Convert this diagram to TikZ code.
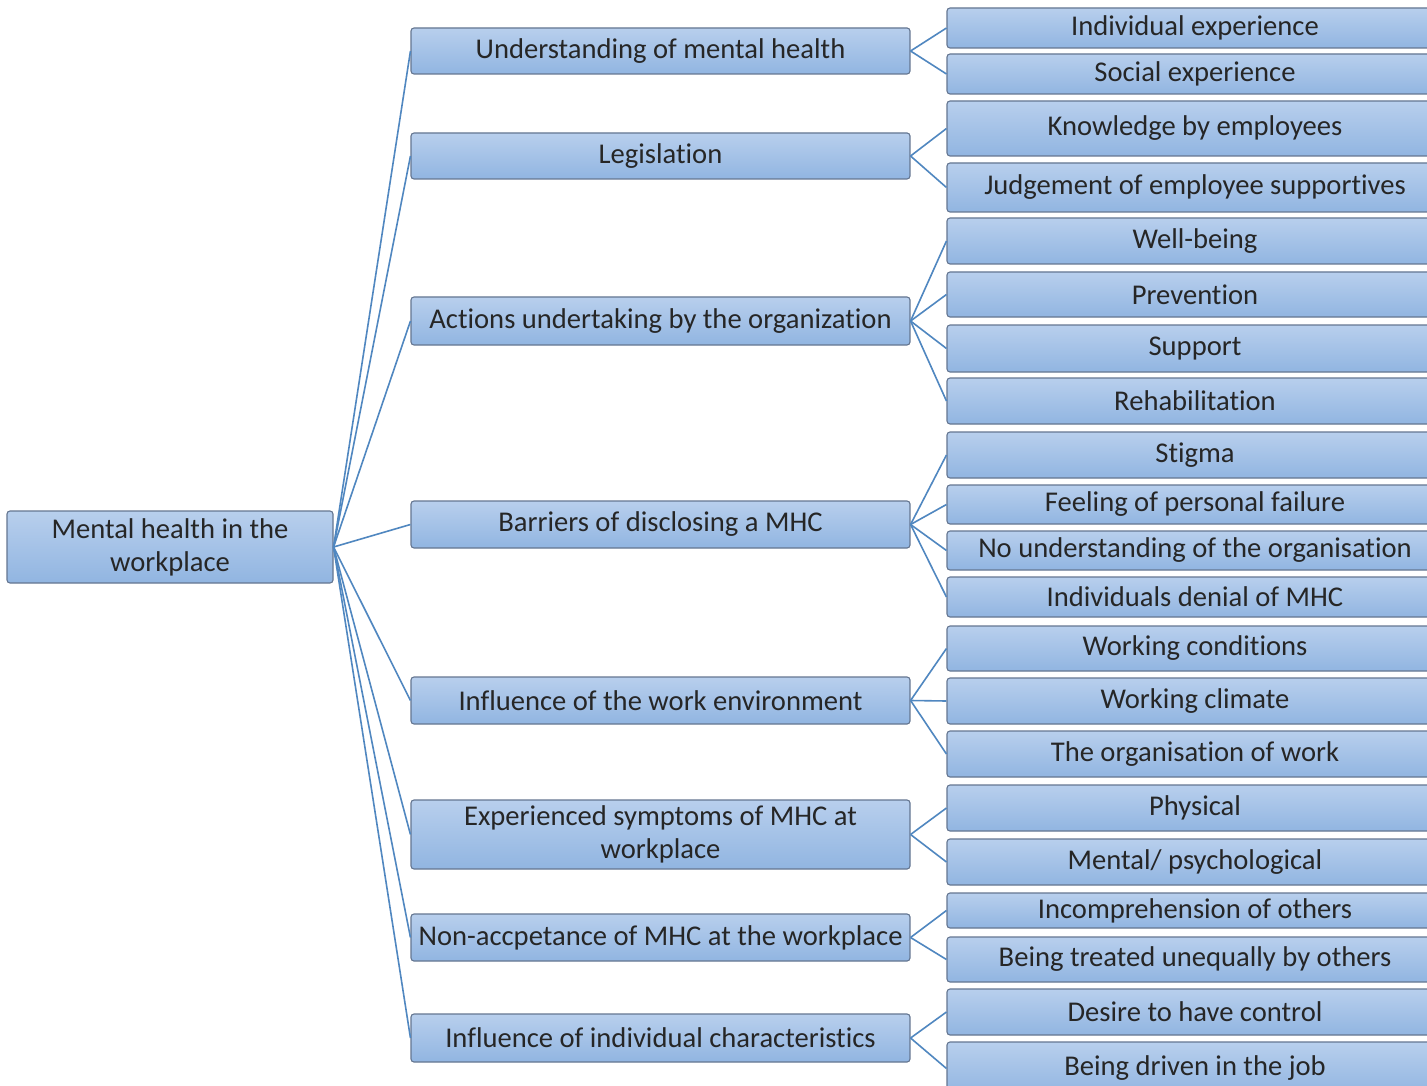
\documentclass[tikz,border=0pt]{standalone}
\usepackage{fontspec}
\setmainfont{Carlito}[Ligatures={NoCommon}]
\definecolor{boxtop}{RGB}{184,207,237}
\definecolor{boxbot}{RGB}{145,181,225}
\definecolor{boxline}{RGB}{100,118,145}
\definecolor{conn}{RGB}{80,135,192}
\tikzset{
  bx/.style={rectangle, rounded corners=1.5pt, draw=boxline, line width=0.55pt,
    top color=boxtop, bottom color=boxbot, inner sep=0pt, align=center,
    font=\fontsize{14.3pt}{16.5pt}\selectfont, text=black!85},
  link/.style={draw=conn, line width=0.8pt}
}
\newcommand\boxat[6]{%
  \node[bx, minimum width={(#4-#2)*0.5pt}, minimum height={(#5-#3)*0.5pt}]
    (#1) at ({(#2+#4)/2},{(#3+#5)/2}) {#6};}
\begin{document}
\begin{tikzpicture}[x=0.5pt,y=-0.5pt]
\useasboundingbox[fill=white] (0,0) rectangle (1427,1085);
% root
\boxat{root}{7}{511}{333}{583}{Mental health in the\\workplace}
% middle
\boxat{m1}{411}{28}{910}{74}{Understanding of mental health}
\boxat{m2}{411}{133}{910}{179}{Legislation}
\boxat{m3}{411}{297}{910}{345}{Actions undertaking by the organization}
\boxat{m4}{411}{501}{910}{548}{Barriers of disclosing a MHC}
\boxat{m5}{411}{677}{910}{724}{Influence of the work environment}
\boxat{m6}{411}{800}{910}{869}{Experienced symptoms of MHC at\\workplace}
\boxat{m7}{411}{914}{910}{961}{Non-accpetance of MHC at the workplace}
\boxat{m8}{411}{1014}{910}{1062}{Influence of individual characteristics}
% right
\boxat{r1}{947}{8}{1443}{48}{Individual experience}
\boxat{r2}{947}{54}{1443}{94}{Social experience}
\boxat{r3}{947}{101}{1443}{156}{Knowledge by employees}
\boxat{r4}{947}{163}{1443}{212}{Judgement of employee supportives}
\boxat{r5}{947}{218}{1443}{264}{Well-being}
\boxat{r6}{947}{272}{1443}{317}{Prevention}
\boxat{r7}{947}{325}{1443}{372}{Support}
\boxat{r8}{947}{378}{1443}{424}{Rehabilitation}
\boxat{r9}{947}{432}{1443}{478}{Stigma}
\boxat{r10}{947}{485}{1443}{524}{Feeling of personal failure}
\boxat{r11}{947}{531}{1443}{570}{No understanding of the organisation}
\boxat{r12}{947}{577}{1443}{617}{Individuals denial of MHC}
\boxat{r13}{947}{626}{1443}{671}{Working conditions}
\boxat{r14}{947}{678}{1443}{724}{Working climate}
\boxat{r15}{947}{731}{1443}{777}{The organisation of work}
\boxat{r16}{947}{785}{1443}{831}{Physical}
\boxat{r17}{947}{839}{1443}{885}{Mental/ psychological}
\boxat{r18}{947}{893}{1443}{928}{Incomprehension of others}
\boxat{r19}{947}{937}{1443}{982}{Being treated unequally by others}
\boxat{r20}{947}{989}{1443}{1035}{Desire to have control}
\boxat{r21}{947}{1042}{1443}{1095}{Being driven in the job}
% connectors
\foreach \m in {m1,m2,m3,m4,m5,m6,m7,m8}{\draw[link] (root.east) -- (\m.west);}
\foreach \m/\r in {m1/r1,m1/r2,m2/r3,m2/r4,m3/r5,m3/r6,m3/r7,m3/r8,
  m4/r9,m4/r10,m4/r11,m4/r12,m5/r13,m5/r14,m5/r15,m6/r16,m6/r17,
  m7/r18,m7/r19,m8/r20,m8/r21}{\draw[link] (\m.east) -- (\r.west);}
\end{tikzpicture}
\end{document}
